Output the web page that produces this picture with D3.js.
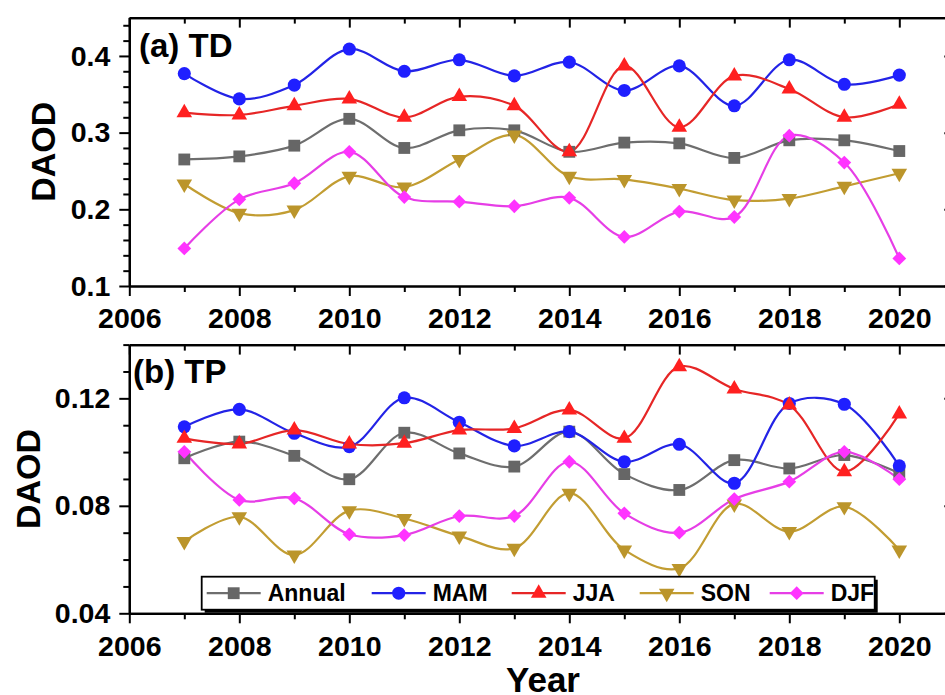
<!DOCTYPE html>
<html><head><meta charset="utf-8">
<script src="https://cdn.jsdelivr.net/npm/d3@7"></script>
<style>
body{margin:0;background:#fff}
svg{display:block}
text{font-family:"Liberation Sans",Arial,Helvetica,sans-serif;font-weight:bold;fill:#000}
</style>
</head><body>
<svg id="chart" width="945" height="695"></svg>
<script>
// ---------------- data ----------------
const years = [2007,2008,2009,2010,2011,2012,2013,2014,2015,2016,2017,2018,2019,2020];
const seriesNames = ["Annual","MAM","JJA","SON","DJF"];

// (a) TD
const tdAnnual = [0.265,0.269,0.283,0.318,0.280,0.303,0.303,0.275,0.287,0.286,0.267,0.290,0.290,0.276];
const tdMAM    = [0.377,0.344,0.362,0.409,0.380,0.395,0.374,0.392,0.355,0.387,0.335,0.395,0.363,0.375];
const tdJJA    = [0.326,0.323,0.335,0.344,0.320,0.347,0.335,0.275,0.387,0.307,0.374,0.357,0.320,0.337];
const tdSON    = [0.233,0.195,0.199,0.243,0.229,0.265,0.297,0.243,0.239,0.227,0.212,0.214,0.230,0.247];
const tdDJF    = [0.149,0.213,0.234,0.275,0.216,0.210,0.204,0.215,0.164,0.197,0.190,0.296,0.261,0.136];

// (b) TP
const tpAnnual = [0.0977,0.1039,0.0986,0.0899,0.1072,0.0995,0.0946,0.1076,0.0918,0.0859,0.0970,0.0939,0.0989,0.0921];
const tpMAM    = [0.1094,0.1159,0.1070,0.1020,0.1202,0.1111,0.1023,0.1076,0.0964,0.1029,0.0884,0.1181,0.1178,0.0949];
const tpJJA    = [0.1051,0.1030,0.1082,0.1030,0.1033,0.1082,0.1088,0.1157,0.1051,0.1318,0.1235,0.1175,0.0927,0.1142];
const tpSON    = [0.0667,0.0759,0.0617,0.0782,0.0753,0.0688,0.0642,0.0847,0.0636,0.0567,0.0807,0.0704,0.0797,0.0636];
const tpDJF    = [0.1001,0.0822,0.0828,0.0694,0.0691,0.0762,0.0762,0.0964,0.0772,0.0700,0.0825,0.0890,0.1001,0.0899];

const xTickValues = [2006,2008,2010,2012,2014,2016,2018,2020];
const xMinorValues = [2007,2009,2011,2013,2015,2017,2019,2021];
const tdYTicks = [0.1,0.2,0.3,0.4];
const tdYMinor = [0.12,0.14,0.16,0.18,0.22,0.24,0.26,0.28,0.32,0.34,0.36,0.38,0.42,0.44];
const tpYTicks = [0.04,0.08,0.12];
const tpYMinor = [0.05,0.06,0.07,0.09,0.10,0.11,0.13,0.14];
const panelLabels = ["(a) TD","(b) TP"];
const yTitle = "DAOD";
const xTitle = "Year";

// ---------------- styles ----------------
const lineColors   = ["#6e6e6e","#2323e6","#e62626","#c29d32","#e63ee6"];
const markerColors = ["#666666","#1f1fff","#ff2020","#bb952b","#ff33ff"];
const markerTypes  = ["square","circle","triUp","triDown","diamond"];

function markerPath(type){
  switch(type){
    case "square":  return d3.symbol(d3.symbolSquare, 140)();
    case "circle":  return d3.symbol(d3.symbolCircle, 135)();
    case "triUp":   return d3.symbol(d3.symbolTriangle, 105)();
    case "triDown": return d3.symbol(d3.symbolTriangle, 105)();
    case "diamond": return d3.symbol(d3.symbolSquare, 95)();
  }
}
function markerRot(type){
  if(type==="triDown") return 180;
  if(type==="diamond") return 45;
  return 0;
}

const svg = d3.select("#chart");
const L = 129.3, R = 954.3;
const x = d3.scaleLinear().domain([2006,2021]).range([L,R]);

function drawPanel(cfg){
  const y = d3.scaleLinear().domain(cfg.yDomain).range([cfg.bottom, cfg.top]);
  const g = svg.append("g");

  const line = d3.line().x((d,i)=>x(years[i])).y(d=>y(d)).curve(d3.curveCatmullRom.alpha(0.5));
  cfg.series.forEach((vals,k)=>{
    g.append("path").attr("d", line(vals)).attr("fill","none")
      .attr("stroke", lineColors[k]).attr("stroke-width",2.2);
  });
  cfg.series.forEach((vals,k)=>{
    g.selectAll(null).data(vals).enter().append("path")
      .attr("d", markerPath(markerTypes[k]))
      .attr("transform",(d,i)=>`translate(${x(years[i])},${y(d)}) rotate(${markerRot(markerTypes[k])})`)
      .attr("fill", markerColors[k]);
  });

  const ax = svg.append("g");
  ax.append("g").attr("transform",`translate(${L},0)`)
    .call(d3.axisLeft(y).tickValues(cfg.yTicks).tickSize(10).tickSizeOuter(0).tickPadding(9).tickFormat(cfg.fmt));
  ax.append("g").attr("transform",`translate(${L},0)`)
    .call(d3.axisLeft(y).tickValues(cfg.yMinor).tickSize(6).tickSizeOuter(0).tickFormat(""));
  ax.append("g").attr("transform",`translate(0,${cfg.bottom})`)
    .call(d3.axisBottom(x).tickValues(xTickValues).tickSize(10).tickSizeOuter(0).tickPadding(12).tickFormat(d3.format("d")));
  ax.append("g").attr("transform",`translate(0,${cfg.bottom})`)
    .call(d3.axisBottom(x).tickValues(xMinorValues).tickSize(6).tickSizeOuter(0).tickFormat(""));
  ax.append("g").attr("transform",`translate(0,${cfg.top})`)
    .call(d3.axisTop(x).tickValues(xTickValues).tickSize(-10).tickSizeOuter(0).tickFormat(""));
  ax.append("g").attr("transform",`translate(0,${cfg.top})`)
    .call(d3.axisTop(x).tickValues(xMinorValues).tickSize(-6).tickSizeOuter(0).tickFormat(""));
  ax.append("g").attr("transform",`translate(${R},0)`)
    .call(d3.axisRight(y).tickValues(cfg.yTicks).tickSize(-10).tickSizeOuter(0).tickFormat(""));
  ax.append("g").attr("transform",`translate(${R},0)`)
    .call(d3.axisRight(y).tickValues(cfg.yMinor).tickSize(-6).tickSizeOuter(0).tickFormat(""));
  ax.selectAll(".domain").attr("stroke","#000").attr("stroke-width",2.2);
  ax.selectAll(".tick line").attr("stroke","#000").attr("stroke-width",2);
  ax.selectAll(".tick text").attr("font-size",28.5);
  ax.selectAll("g").attr("font-family",null).attr("font-size",null);

  svg.append("text").attr("x",cfg.labelX).attr("y",cfg.labelY).attr("font-size",33).text(cfg.label);
  svg.append("text").attr("transform",`translate(${cfg.titleX},${(cfg.top+cfg.bottom)/2}) rotate(-90)`)
    .attr("text-anchor","middle").attr("font-size",34).text(yTitle);
  return y;
}

drawPanel({top:17.6,bottom:286,yDomain:[0.1,0.45],yTicks:tdYTicks,yMinor:tdYMinor,fmt:d3.format(".1f"),
  series:[tdAnnual,tdMAM,tdJJA,tdSON,tdDJF],label:panelLabels[0],labelX:139,labelY:57,titleX:55});
drawPanel({top:344.6,bottom:613.3,yDomain:[0.04,0.14],yTicks:tpYTicks,yMinor:tpYMinor,fmt:d3.format(".2f"),
  series:[tpAnnual,tpMAM,tpJJA,tpSON,tpDJF],label:panelLabels[1],labelX:133,labelY:383,titleX:40});

svg.append("text").attr("x",543).attr("y",692).attr("text-anchor","middle").attr("font-size",35).text(xTitle);

// legend
const lg = svg.append("g").attr("transform","translate(201.7,576.7)");
const lgW = 673, lgH = 33;
lg.append("rect").attr("x",3).attr("y",3).attr("width",lgW).attr("height",lgH).attr("fill","#000");
lg.append("rect").attr("x",0).attr("y",0).attr("width",lgW).attr("height",lgH).attr("fill","#fff").attr("stroke","#000").attr("stroke-width",1.8);
const itemStarts = [5, 170, 310, 438, 568];
seriesNames.forEach((name,k)=>{
  const it = lg.append("g").attr("transform",`translate(${itemStarts[k]},${lgH/2})`);
  it.append("line").attr("x1",0).attr("x2",54).attr("stroke",lineColors[k]).attr("stroke-width",2.2);
  it.append("path").attr("d",markerPath(markerTypes[k])).attr("transform",`translate(27,0) rotate(${markerRot(markerTypes[k])})`).attr("fill",markerColors[k]);
  it.append("text").attr("x",61).attr("y",8).attr("font-size",23).text(name);
});
</script>
</body></html>
